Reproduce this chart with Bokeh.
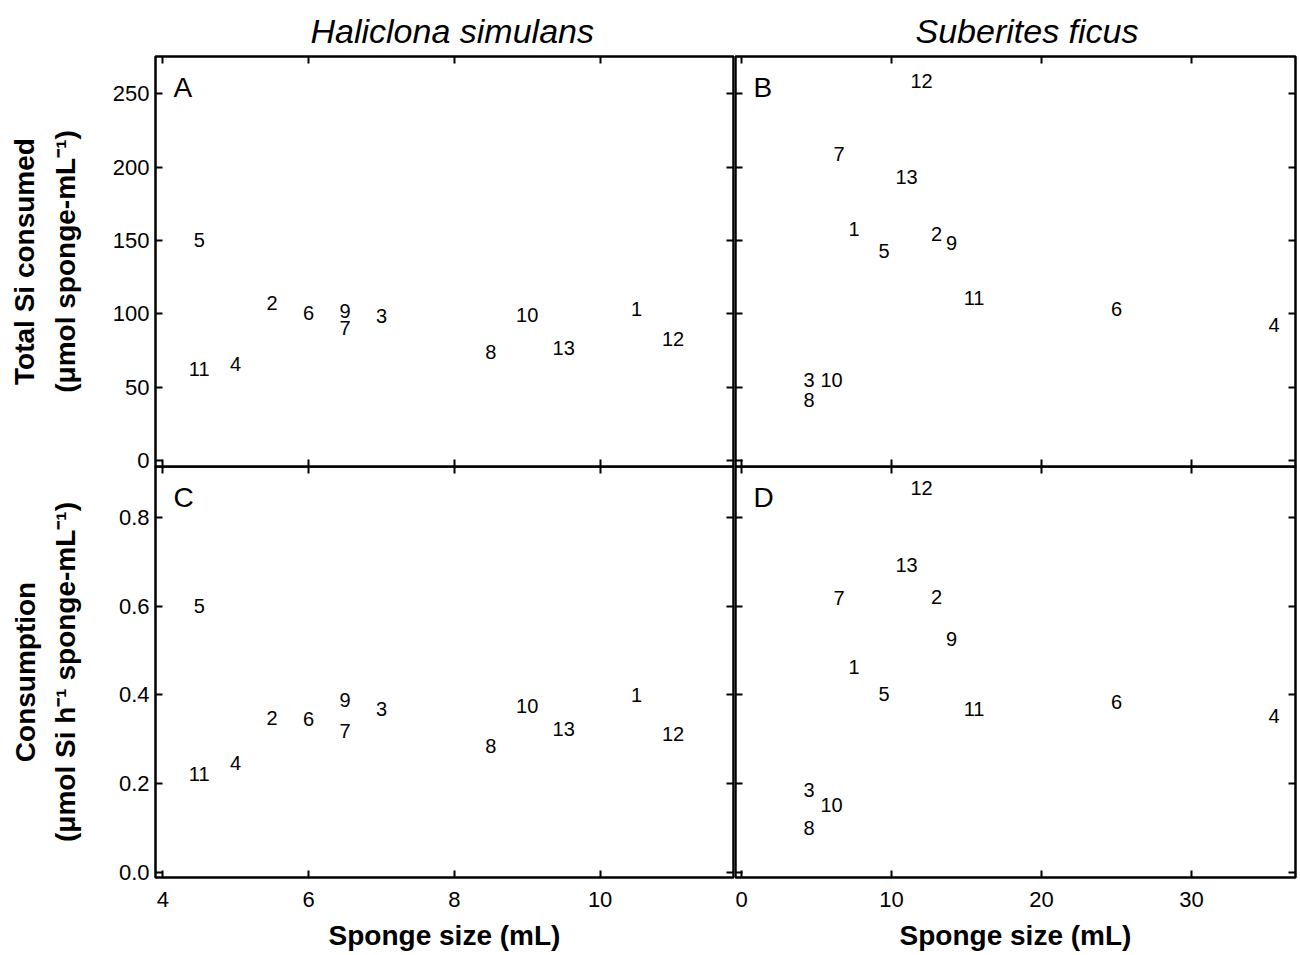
from bokeh.plotting import figure
from bokeh.layouts import column, row
from bokeh.models import (Range1d, LinearAxis, FixedTicker, Label, Title,
                          CustomJSTickFormatter, NumeralTickFormatter, ColumnDataSource)
from bokeh.embed import file_html
from bokeh.resources import INLINE
from bokeh.core.properties import value

# ---------------- data ----------------
sponge_id = ["1", "2", "3", "4", "5", "6", "7", "8", "9", "10", "11", "12", "13"]

# Haliclona simulans
hs_size = [10.5, 5.5, 7.0, 5.0, 4.5, 6.0, 6.5, 8.5, 6.5, 9.0, 4.5, 11.0, 9.5]
hs_total = [103.4, 107.5, 98.4, 66.0, 150.0, 100.7, 90.5, 74.0, 102.0, 99.0, 62.5, 83.0, 76.6]
hs_rate = [0.399, 0.349, 0.369, 0.247, 0.600, 0.345, 0.318, 0.286, 0.389, 0.374, 0.223, 0.313, 0.324]

# Suberites ficus
sf_size = [7.5, 13.0, 4.5, 35.5, 9.5, 25.0, 6.5, 4.5, 14.0, 6.0, 15.5, 12.0, 11.0]
sf_total = [158.0, 154.5, 55.0, 92.5, 142.7, 103.4, 209.0, 41.0, 148.0, 55.0, 111.0, 258.6, 193.0]
sf_rate = [0.462, 0.621, 0.187, 0.353, 0.402, 0.383, 0.617, 0.101, 0.525, 0.153, 0.368, 0.865, 0.693]

hs_xticks = [4, 6, 8, 10]
sf_xticks = [0, 10, 20, 30]
total_yticks = [0, 50, 100, 150, 200, 250]
rate_yticks = [0.0, 0.2, 0.4, 0.6, 0.8]

FONT = "Liberation Sans"
TICK_FS = "22px"
DATA_FS = "20px"


def tick_axis(ticks, labels=False, fmt=None):
    ax = LinearAxis(ticker=FixedTicker(ticks=ticks))
    ax.axis_line_color = None
    ax.major_tick_in = 7
    ax.major_tick_out = 0
    ax.major_tick_line_width = 2
    ax.major_tick_line_color = "black"
    ax.minor_tick_line_color = None
    if labels:
        ax.major_label_text_font = FONT
        ax.major_label_text_font_size = TICK_FS
        ax.major_label_text_color = "black"
        if fmt is not None:
            ax.formatter = fmt
    else:
        ax.formatter = CustomJSTickFormatter(code="return ''")
        ax.major_label_text_font_size = "0px"
        ax.major_label_standoff = 0
    return ax


def panel(xr, yr, fw, fh, xticks, yticks, xs, ys, letter,
          left_labels=False, bottom_labels=False, yfmt=None,
          mb_left=1, mb_right=1, mb_top=1, mb_bottom=1, transparent=False):
    p = figure(frame_width=fw, frame_height=fh,
               x_range=Range1d(*xr), y_range=Range1d(*yr),
               x_axis_location=None, y_axis_location=None,
               output_backend="svg", toolbar_location=None,
               min_border_left=mb_left, min_border_right=mb_right,
               min_border_top=mb_top, min_border_bottom=mb_bottom)
    p.grid.grid_line_color = None
    p.outline_line_color = "black"
    p.outline_line_width = 2.5
    if transparent:
        p.background_fill_alpha = 0
        p.border_fill_alpha = 0
    else:
        p.background_fill_color = "white"
        p.border_fill_color = "white"

    left = tick_axis(yticks, labels=left_labels, fmt=yfmt)
    bottom = tick_axis(xticks, labels=bottom_labels)
    p.add_layout(left, "left")
    p.add_layout(bottom, "below")
    p.add_layout(tick_axis(yticks), "right")
    p.add_layout(tick_axis(xticks), "above")

    src = ColumnDataSource(dict(x=xs, y=ys, t=sponge_id))
    p.text(x="x", y="y", text="t", source=src, text_align="center",
           text_baseline="middle", text_font=value(FONT),
           text_font_size=DATA_FS, text_color="black")

    p.add_layout(Label(x=18, y=fh - 15, x_units="screen", y_units="screen",
                       text=letter, text_font=FONT, text_font_size="28px",
                       text_align="left", text_baseline="top",
                       text_color="black"))
    return p, left, bottom


LW, RW = 578, 560
TH, BH = 410, 411
OVER = 6

pA, aL, aB = panel((3.9, 11.83), (-4.1, 275.4), LW, TH, hs_xticks, total_yticks,
                   hs_size, hs_total, "A", left_labels=True,
                   mb_left=155, mb_top=56, mb_bottom=OVER)
pB, bL, bB = panel((-0.4, 36.93), (-4.1, 275.4), RW, TH, sf_xticks, total_yticks,
                   sf_size, sf_total, "B", mb_top=56, mb_right=2, mb_bottom=OVER)
pC, cL, cB = panel((3.9, 11.83), (-0.011, 0.914), LW, BH, hs_xticks, rate_yticks,
                   hs_size, hs_rate, "C", left_labels=True, bottom_labels=True,
                   yfmt=NumeralTickFormatter(format="0.0"),
                   mb_left=155, mb_bottom=76, mb_top=0, transparent=True)
pD, dL, dB = panel((-0.4, 36.93), (-0.011, 0.914), RW, BH, sf_xticks, rate_yticks,
                   sf_size, sf_rate, "D", bottom_labels=True,
                   mb_bottom=76, mb_right=2, mb_top=0, transparent=True)

for p, t, off in ((pA, "Haliclona simulans", 155), (pB, "Suberites ficus", 180)):
    p.title = Title(text=t, align="left", text_font=FONT,
                    text_font_style="italic", text_font_size="34px",
                    text_color="black", standoff=14, offset=off)

for ax, lab, so in ((aL, "Total Si consumed\n(μmol sponge-mL⁻¹)", 29),
                    (cL, "Consumption\n(μmol Si h⁻¹ sponge-mL⁻¹)", 35)):
    ax.axis_label = lab
    ax.axis_label_text_font = FONT
    ax.axis_label_text_font_style = "bold"
    ax.axis_label_text_font_size = "28px"
    ax.axis_label_text_color = "black"
    ax.axis_label_text_line_height = 1.3
    ax.axis_label_standoff = so
    ax.major_label_standoff = 6

for ax in (cB, dB):
    ax.axis_label = "Sponge size (mL)"
    ax.axis_label_text_font = FONT
    ax.axis_label_text_font_style = "bold"
    ax.axis_label_text_font_size = "28px"
    ax.axis_label_text_color = "black"
    ax.axis_label_standoff = 10
    ax.major_label_standoff = 14

top_row = row(pA, pB)
bottom_row = row(pC, pD, styles={"margin-top": f"-{OVER}px"})
layout = column(top_row, bottom_row)

with open("out.html", "w") as f:
    f.write(file_html(layout, INLINE))
